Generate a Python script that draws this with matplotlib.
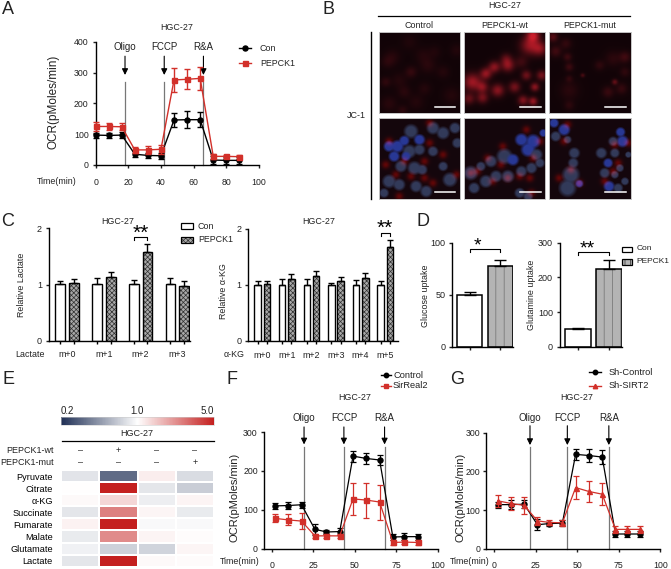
import matplotlib
matplotlib.use('agg')
import matplotlib.pyplot as plt
import numpy as np
from matplotlib.colors import LinearSegmentedColormap, LogNorm
from matplotlib.cm import ScalarMappable
from matplotlib.lines import Line2D
from matplotlib.patches import Rectangle
from matplotlib.ticker import NullLocator
from matplotlib.transforms import Affine2D

W, H = 671, 569

# panel A
time_a = [0, 8, 16, 24, 32, 40, 48, 56, 64, 72, 80, 88]
con_a = [97, 96, 97, 35, 31, 30, 146, 147, 147, 16, 15, 15]
con_a_err = [8, 9, 9, 10, 9, 10, 22, 28, 25, 12, 12, 12]
pepck_a = [125, 125, 124, 49, 49, 51, 276, 278, 281, 28, 28, 27]
pepck_a_err = [14, 12, 12, 11, 12, 14, 40, 32, 38, 8, 6, 7]

# panel C
lactate_groups = ['m+0', 'm+1', 'm+2', 'm+3']
lactate_con = [1.01, 1.01, 1.01, 1.01]
lactate_con_err = [0.05, 0.1, 0.07, 0.1]
lactate_pepck = [1.02, 1.14, 1.58, 0.98]
lactate_pepck_err = [0.08, 0.09, 0.14, 0.09]
akg_groups = ['m+0', 'm+1', 'm+2', 'm+3', 'm+4', 'm+5']
akg_con = [1, 1, 1, 1, 1, 1]
akg_con_err = [0.07, 0.1, 0.1, 0.03, 0.09, 0.07]
akg_pepck = [1.01, 1.1, 1.16, 1.08, 1.13, 1.67]
akg_pepck_err = [0.07, 0.09, 0.09, 0.06, 0.08, 0.13]

# panel D
glucose = [50, 78]
glucose_err = [3, 5]
glutamine = [51, 223]
glutamine_err = [3, 26]

# panel E
metabolites = ['Pyruvate', 'Citrate', 'α-KG', 'Succinate', 'Fumarate', 'Malate', 'Glutamate', 'Lactate']
heat_values = [
    [0.81, 0.32, 1.14, 0.76],
    [1.00, 5.00, 0.82, 0.68],
    [1.05, 1.35, 0.88, 1.09],
    [0.82, 2.50, 1.07, 0.85],
    [1.10, 5.00, 0.96, 0.96],
    [0.85, 2.30, 1.09, 1.02],
    [0.90, 0.70, 0.72, 1.07],
    [0.82, 5.00, 1.05, 1.03],
]
wt_signs = ['–', '+', '–', '–']
mut_signs = ['–', '–', '–', '+']

# panel F
time_fg = [2, 10, 18, 26, 33, 41, 49, 57, 65, 73, 80, 88]
control_f = [110, 111, 113, 50, 43, 44, 238, 232, 228, 30, 31, 31]
control_f_err = [8, 8, 8, 14, 6, 8, 14, 14, 14, 8, 9, 8]
sirreal_f = [78, 74, 71, 33, 33, 33, 128, 125, 120, 16, 17, 16]
sirreal_f_err = [10, 14, 20, 6, 6, 6, 41, 45, 45, 7, 6, 6]

# panel G
control_g = [114, 114, 115, 62, 65, 66, 244, 241, 237, 38, 38, 38]
control_g_err = [8, 12, 10, 14, 5, 7, 15, 16, 18, 8, 7, 8]
sirt_g = [124, 117, 112, 72, 68, 67, 158, 148, 141, 50, 50, 50]
sirt_g_err = [15, 17, 22, 10, 6, 6, 30, 27, 28, 9, 9, 9]

# panel B, spots: x, y, radius, strength on a 243 wide panel
red_control = [(90, 30, 11, .10), (40, 75, 11, .14), (130, 70, 11, .12), (25, 90, 9, .14), (95, 120, 8, .24),
               (145, 100, 11, .16), (60, 145, 11, .13), (20, 150, 7, .2), (75, 180, 9, .16), (215, 190, 12, .13),
               (110, 210, 11, .13), (30, 215, 11, .16), (165, 60, 9, .1), (230, 55, 9, .12), (190, 120, 9, .13),
               (135, 170, 9, .13), (70, 235, 7, .18)]
red_wt = [(205, 10, 9, .75), (195, 40, 13, .6), (225, 50, 10, .5), (130, 100, 9, .55), (125, 80, 8, .3),
          (90, 105, 8, .55), (65, 125, 8, .6), (25, 150, 12, .65), (55, 165, 8, .5), (100, 175, 9, .55),
          (150, 165, 8, .45), (185, 130, 7, .42), (230, 130, 7, .45), (210, 165, 6, .55), (15, 200, 8, .38),
          (55, 197, 8, .45), (175, 205, 7, .5), (205, 208, 6, .6), (170, 90, 9, .2)]
red_mut = [(12, 15, 7, .42), (20, 58, 8, .28), (50, 35, 8, .2), (55, 75, 6, .26), (60, 105, 6, .26),
           (60, 140, 5, .18), (60, 175, 13, .15), (150, 100, 7, .18), (190, 80, 11, .16), (225, 75, 8, .28),
           (195, 150, 4, .5), (175, 180, 8, .24), (215, 170, 8, .22), (225, 120, 7, .18), (100, 130, 3, .35),
           (60, 220, 7, .16)]

cells_control = [(95, 40, 18, 'g'), (120, 65, 14, 'b'), (75, 68, 13, 'b'), (30, 85, 14, 'b'), (55, 85, 16, 'b'),
                 (90, 100, 17, 'g'), (120, 95, 14, 'g'), (45, 115, 14, 'b'), (80, 115, 12, 'b'), (160, 30, 16, 'g'),
                 (190, 45, 16, 'g'), (225, 30, 14, 'g'), (232, 75, 13, 'g'), (160, 100, 13, 'g'), (105, 150, 17, 'g'),
                 (65, 145, 15, 'g'), (128, 155, 13, 'g'), (210, 185, 18, 'g'), (30, 190, 17, 'g'), (110, 205, 15, 'g'),
                 (60, 200, 15, 'g'), (140, 220, 15, 'g'), (15, 225, 12, 'g'), (190, 145, 12, 'g')]
rims_control = [(150, 75), (190, 110), (135, 130), (20, 140), (50, 170), (95, 175), (135, 180), (75, 130), (30, 70),
                (150, 15), (230, 170), (60, 235), (160, 195)]
cells_wt = [(170, 65, 16, 'b'), (205, 70, 18, 'b'), (190, 95, 18, 'b'), (215, 110, 15, 'g'), (235, 45, 10, 'b'),
            (120, 115, 20, 'g'), (145, 125, 15, 'b'), (80, 130, 15, 'g'), (50, 145, 12, 'g'), (20, 165, 18, 'g'),
            (95, 175, 15, 'g'), (130, 175, 16, 'g'), (170, 160, 14, 'g'), (200, 150, 14, 'g'), (225, 135, 12, 'g'),
            (65, 190, 16, 'g'), (30, 210, 14, 'g'), (165, 225, 13, 'g'), (190, 235, 12, 'g')]
rims_wt = [(185, 35), (225, 70), (205, 120), (115, 85), (70, 120), (20, 165), (85, 190), (130, 180), (165, 175),
           (195, 180), (110, 140), (40, 160), (200, 225)]
cells_mut = [(15, 15, 12, 'b'), (45, 35, 15, 'b'), (20, 55, 13, 'g'), (55, 65, 10, 'g'), (212, 42, 12, 'b'),
             (218, 70, 15, 'b'), (190, 70, 12, 'g'), (75, 105, 14, 'g'), (72, 135, 13, 'g'), (155, 105, 14, 'g'),
             (195, 105, 12, 'g'), (175, 135, 12, 'b'), (65, 170, 22, 'g'), (55, 210, 22, 'g'), (90, 197, 10, 'b'),
             (165, 165, 13, 'g'), (195, 170, 10, 'g'), (210, 150, 10, 'g'), (178, 205, 14, 'b'), (205, 210, 12, 'g'),
             (225, 190, 10, 'g'), (235, 110, 8, 'g')]
rims_mut = [(65, 155), (45, 70), (55, 20), (195, 80), (205, 135), (190, 160), (165, 190), (90, 195), (30, 180), (235, 75)]

plt.rcParams['font.family'] = ['Liberation Sans', 'DejaVu Sans']
plt.rcParams['text.color'] = '#222222'
plt.rcParams['hatch.linewidth'] = 0.5

RED = '#d2302a'
fig = plt.figure(figsize=(W / 100, H / 100), dpi=100)
# everything outside the axes is placed in image pixels, y going down
T = Affine2D().scale(1, -1).translate(0, H)


def add_ax(left, top, right, bottom):
    return fig.add_axes([left / W, 1 - bottom / H, (right - left) / W, (bottom - top) / H])


def label(x, y, s, size=6.4, ha='center', **kw):
    fig.text(x, y, s, transform=T, fontsize=size, ha=ha, va='center', **kw)


def style(ax, size=6.3, lw=1.0):
    for side in ['top', 'right']:
        ax.spines[side].set_visible(False)
    for side in ['left', 'bottom']:
        ax.spines[side].set_linewidth(lw)
    ax.tick_params(labelsize=size, length=2.5, width=lw, pad=2.5, colors='#222222')


def key_line(x0, x1, y, color, marker, ms=3.6):
    fig.add_artist(Line2D([x0, x1], [y, y], color=color, lw=1.0, transform=T))
    fig.add_artist(Line2D([(x0 + x1) / 2], [y], color=color, marker=marker, ms=ms, lw=0, transform=T))


def key_box(x0, x1, y0, y1, facecolor, hatch=None, hatch_color='k'):
    fig.add_artist(Rectangle((x0, y0), x1 - x0, y1 - y0, transform=T, lw=0, facecolor=facecolor,
                             edgecolor=hatch_color, hatch=hatch))
    fig.add_artist(Rectangle((x0, y0), x1 - x0, y1 - y0, transform=T, lw=0.9, edgecolor='k', facecolor='none'))


def seahorse(ax, t, a, a_err, b, b_err, b_color, marker_b, injections, lw=1.0, ms=3.6):
    for x, name, text_y, top, tip, line_top in injections:
        ax.plot([x, x], [0, line_top], color='#777777', lw=0.9, clip_on=False)
        ax.annotate('', xy=(x, tip), xytext=(x, top), annotation_clip=False,
                    arrowprops=dict(arrowstyle='-|>', color='k', lw=0.8, shrinkA=0, shrinkB=0, mutation_scale=9))
        ax.text(x, text_y, name, fontsize=7, ha='center', va='center', clip_on=False)
    ax.errorbar(t, a, yerr=a_err, color='k', marker='o', ms=ms, lw=lw, capsize=2.5, elinewidth=lw,
                capthick=lw, clip_on=False, zorder=3)
    ax.errorbar(t, b, yerr=b_err, color=b_color, marker=marker_b, ms=ms, lw=lw, capsize=2.5, elinewidth=lw,
                capthick=lw, clip_on=False, zorder=4)


def bracket(ax, x0, x1, y_top, y_low, stars, star_x, star_y, size=15):
    ax.plot([x0, x0, x1, x1], [y_low, y_top, y_top, y_low], color='k', lw=0.8, clip_on=False)
    fig.text(star_x, star_y, stars, transform=T, fontsize=size, ha='center', va='center', color='k')


def iso_bars(ax, groups, con, con_err, pepck, pepck_err, offset, width):
    x = np.arange(len(groups))
    ax.bar(x - offset, con, width, color='white', edgecolor='k', lw=1.0)
    ax.bar(x + offset, pepck, width, color='#a8a8a8', edgecolor='#303030', lw=0, hatch='xxxxxxx')
    ax.bar(x + offset, pepck, width, color='none', edgecolor='k', lw=1.0)
    ax.errorbar(x - offset, con, yerr=[np.zeros(len(x)), con_err], fmt='none', ecolor='k', elinewidth=1, capsize=2.5, capthick=1)
    ax.errorbar(x + offset, pepck, yerr=[np.zeros(len(x)), pepck_err], fmt='none', ecolor='k', elinewidth=1, capsize=2.5, capthick=1)
    ax.set_xticks(x, groups)
    ax.tick_params(axis='x', length=0, pad=7)
    ax.set_xticks(np.r_[x - offset, x + offset], minor=True)
    ax.tick_params(axis='x', which='minor', length=2.5, width=1)
    ax.set_yticks([0, 1, 2])


def uptake_bars(ax, values, errors):
    x = np.arange(2)
    ax.bar(x[0], values[0], 0.82, color='white', edgecolor='k', lw=1.1)
    ax.bar(x[1], values[1], 0.82, color='#b4b4b4', edgecolor='#707070', lw=0, hatch='||')
    ax.bar(x[1], values[1], 0.82, color='none', edgecolor='k', lw=1.1)
    ax.errorbar(x, values, yerr=[[0, 0], errors], fmt='none', ecolor='k', elinewidth=1, capsize=4, capthick=1)
    ax.set_xticks(x, ['', ''])


def micrograph_red(spots, bg, gain):
    yy, xx = np.mgrid[1.5:243:3, 1.5:243:3]
    glow = np.zeros_like(xx)
    for x, y, r, amp in spots:
        r = r * 1.45
        glow += amp * np.exp(-((xx - x) ** 2 + (yy - y) ** 2) / (2 * r ** 2))
    glow = np.clip(glow * gain, 0, 1)
    img = np.dstack([bg[0] + 0.72 * glow, bg[1] + 0.1 * glow, bg[2] + 0.14 * glow])
    return np.clip(img, 0, 1)


def micrograph_merge(cells, rims, bg):
    yy, xx = np.mgrid[1.5:243:3, 1.5:243:3]
    img = np.ones(xx.shape + (3,)) * bg
    colors = {'g': np.array([50, 58, 90]) / 255, 'b': np.array([40, 56, 150]) / 255}
    for x, y, r, kind in cells:
        d = np.hypot(xx - x, yy - y)
        w = np.clip((r * 1.35 - d) / (r * 0.6), 0, 1)[..., None]
        img = img * (1 - w) + colors[kind] * w
    for x, y in rims:
        g = np.exp(-((xx - x) ** 2 + (yy - y) ** 2) / (2 * 8 ** 2))[..., None]
        img = img + g * np.array([0.3, 0.0, -0.02])
    return np.clip(img, 0, 1)


# letters
for x, y, s in [(8, 10, 'A'), (328, 9, 'B'), (8, 222, 'C'), (423, 222, 'D'), (9, 380, 'E'), (232, 380, 'F'), (457, 380, 'G')]:
    label(x, y, s, size=13)

# A
ax = add_ax(95.6, 41.7, 259, 165)
style(ax)
ax.set_xlim(0, 100)
ax.set_ylim(0, 400)
ax.set_yticks([0, 100, 200, 300, 400])
ax.set_xticks([0, 20, 40, 60, 80, 100])
ax.tick_params(axis='x', pad=7)
seahorse(ax, time_a, con_a, con_a_err, pepck_a, pepck_a_err, RED, 's',
         [(18, 'Oligo', 382, 353, 292, 270), (42, 'FCCP', 382, 353, 292, 270), (66, 'R&A', 382, 353, 292, 270)])
label(54, 102, 'OCR(pMoles/min)', size=8.5, rotation=90)
label(57, 181, 'Time(min)')
label(177, 27.7, 'HGC-27')
key_line(239, 251, 48.3, 'k', 'o')
key_line(239, 251, 63.3, RED, 's')
label(260, 48.3, 'Con', ha='left')
label(260, 63.3, 'PEPCK1', ha='left')

# B
label(505, 6, 'HGC-27')
fig.add_artist(Line2D([378, 630], [15.7, 15.7], color='k', lw=0.9, transform=T))
fig.add_artist(Line2D([371.3, 371.3], [32, 199], color='k', lw=1.0, transform=T))
label(356.7, 115, 'JC-1')
panel_lefts = [378.7, 464, 549.3]
panel_names = ['Control', 'PEPCK1-wt', 'PEPCK1-mut']
top_spots = [(red_control, 0.75), (red_wt, 1.15), (red_mut, 0.85)]
merge_cells = [(cells_control, rims_control), (cells_wt, rims_wt), (cells_mut, rims_mut)]
for left, name, spots, merge in zip(panel_lefts, panel_names, top_spots, merge_cells):
    label(left + 40.5, 25.5, name)
    for top, img in [(32.3, micrograph_red(spots[0], (0.07, 0.015, 0.03), spots[1])),
                     (117.7, micrograph_merge(merge[0], merge[1], np.array([0.08, 0.025, 0.05])))]:
        a = add_ax(left, top, left + 81.3, top + 81)
        a.imshow(img, interpolation='bilinear', aspect='auto')
        a.set_xticks([])
        a.set_yticks([])
        for sp in a.spines.values():
            sp.set_color('#c4c4c4')
            sp.set_linewidth(0.7)
        fig.add_artist(Line2D([left + 56, left + 76.6], [top + 74.3, top + 74.3], color='white', lw=1.1, transform=T))

# C left
ax = add_ax(49, 228.3, 190, 340.7)
style(ax, size=6.5)
ax.set_xlim(-0.496, 3.346)
ax.set_ylim(0, 2)
iso_bars(ax, lactate_groups, lactate_con, lactate_con_err, lactate_pepck, lactate_pepck_err, 0.187, 0.265)
ax.tick_params(axis='x', labelsize=6.4)
bracket(ax, 1.813, 2.187, 1.84, 1.79, '**', 141, 233)
label(22, 284.5, 'Relative Lactate', size=6.4, rotation=90)
label(30, 354.3, 'Lactate')
label(118, 222, 'HGC-27')
key_box(181.3, 193.3, 223.3, 229.3, 'white')
key_box(181.3, 193.3, 236.7, 242.7, '#a8a8a8', 'xxxxxxx', '#303030')
label(198, 226.3, 'Con', ha='left')
label(198, 239.3, 'PEPCK1', ha='left')

# C right
ax = add_ax(248.3, 229, 398, 341)
style(ax, size=6.5)
ax.set_xlim(-0.565, 5.52)
ax.set_ylim(0, 2)
iso_bars(ax, akg_groups, akg_con, akg_con_err, akg_pepck, akg_pepck_err, 0.187, 0.268)
ax.tick_params(axis='x', labelsize=6.4)
bracket(ax, 4.813, 5.187, 1.93, 1.87, '**', 385, 228)
label(223, 291, 'Relative α-KG', size=6.4, rotation=90)
label(234, 354.3, 'α-KG')
label(318.5, 222, 'HGC-27')

# D
ax = add_ax(452.3, 242.7, 512.7, 346.7)
style(ax, size=6.5)
ax.set_xlim(-0.57, 1.4)
ax.set_ylim(0, 100)
uptake_bars(ax, glucose, glucose_err)
ax.set_yticks([0, 50, 100])
bracket(ax, 0, 1, 94, 91.5, '*', 477, 246, size=14)
label(426, 296, 'Glucose uptake', size=6.4, rotation=90)

ax = add_ax(560, 242.7, 621.7, 346.7)
style(ax, size=6.5)
ax.set_xlim(-0.57, 1.4)
ax.set_ylim(0, 300)
uptake_bars(ax, glutamine, glutamine_err)
ax.set_yticks([0, 100, 200, 300])
bracket(ax, 0, 1, 273, 264, '**', 587, 249, size=14)
label(531, 295, 'Glutamine uptake', size=6.4, rotation=90)
key_box(621.7, 632.3, 246.7, 252.3, 'white')
key_box(621.7, 632.3, 259, 265, '#b4b4b4', '|||', '#303030')
label(636.5, 249, 'Con', size=6, ha='left')
label(636.5, 261.7, 'PEPCK1', size=6, ha='left')

# E
cmap = LinearSegmentedColormap.from_list('heat', ['#1f2f55', '#ffffff', '#c4201f'])
norm = LogNorm(vmin=0.2, vmax=5)
cax = add_ax(61, 416.7, 214, 425)
fig.colorbar(ScalarMappable(norm=norm, cmap=cmap), cax=cax, orientation='horizontal', ticks=[])
cax.xaxis.set_ticks([])
cax.xaxis.set_minor_locator(NullLocator())
cax.spines['outline'].set_linewidth(0.4)
cax.spines['outline'].set_color('#cccccc')
label(67, 410.5, '0.2', size=7)
label(137, 410.5, '1.0', size=7)
label(207.5, 410.5, '5.0', size=7)
label(137, 434, 'HGC-27', size=6.5)
fig.add_artist(Line2D([62.3, 214], [441.3, 441.3], color='k', lw=0.9, transform=T))
for y, name, signs in [(450.3, 'PEPCK1-wt', wt_signs), (462.7, 'PEPCK1-mut', mut_signs)]:
    label(54, y, name, size=6.5, ha='right')
    for cx, sign in zip([80, 118.3, 156.7, 195], signs):
        label(cx, y, sign, size=6.5)
ax = add_ax(61, 470, 214.3, 566.7)
ax.pcolormesh(heat_values, cmap=cmap, norm=norm, edgecolors='white', linewidth=0.3)
ax.invert_yaxis()
ax.set_xticks([])
ax.set_yticks(np.arange(len(metabolites)) + 0.5, metabolites)
ax.tick_params(axis='y', length=0, labelsize=6.6, pad=6)
for sp in ax.spines.values():
    sp.set_visible(False)

# F
ax = add_ax(263.7, 432, 437.7, 548.7)
style(ax)
ax.set_xlim(-4.8, 100)
ax.set_ylim(0, 300)
ax.set_xticks([0, 25, 50, 75, 100])
ax.set_yticks([0, 100, 200, 300])
ax.tick_params(axis='x', pad=6)
ax.tick_params(axis='y', pad=1.8)
seahorse(ax, time_fg, control_f, control_f_err, sirreal_f, sirreal_f_err, RED, 's',
         [(19.5, 'Oligo', 337, 313, 268, 262), (43.5, 'FCCP', 337, 313, 268, 262), (68, 'R&A', 337, 313, 268, 262)], lw=0.9)
label(235, 497, 'OCR(pMoles/min)', size=8, rotation=90)
label(240, 561.5, 'Time(min)')
label(355, 397.7, 'HGC-27')
key_line(381, 391, 375, 'k', 'o', 3.2)
key_line(381, 391, 385.7, RED, 's', 3.2)
label(393, 375, 'Control', size=6.7, ha='left')
label(393, 385.7, 'SirReal2', size=6.7, ha='left')

# G
ax = add_ax(486, 432.7, 660.3, 548.7)
style(ax)
ax.set_xlim(-5, 100)
ax.set_ylim(0, 300)
ax.set_xticks([0, 25, 50, 75, 100])
ax.set_yticks([0, 100, 200, 300])
ax.tick_params(axis='x', pad=6)
ax.tick_params(axis='y', pad=1.8)
seahorse(ax, time_fg, control_g, control_g_err, sirt_g, sirt_g_err, RED, '^',
         [(21.5, 'Oligo', 338, 318, 268, 262), (44, 'FCCP', 338, 318, 268, 262), (69, 'R&A', 338, 318, 268, 262)], lw=0.9)
label(460, 497, 'OCR(pMoles/min)', size=8, rotation=90)
label(470, 561, 'Time(min)')
label(577, 397.3, 'HGC-27')
key_line(588.7, 601, 372.3, 'k', 'o', 3.2)
key_line(588.7, 601, 385.7, RED, '^', 3.2)
label(608.3, 372.3, 'Sh-Control', size=6.7, ha='left')
label(608.3, 385.7, 'Sh-SIRT2', size=6.7, ha='left')

fig.savefig('out.png', dpi=100)
